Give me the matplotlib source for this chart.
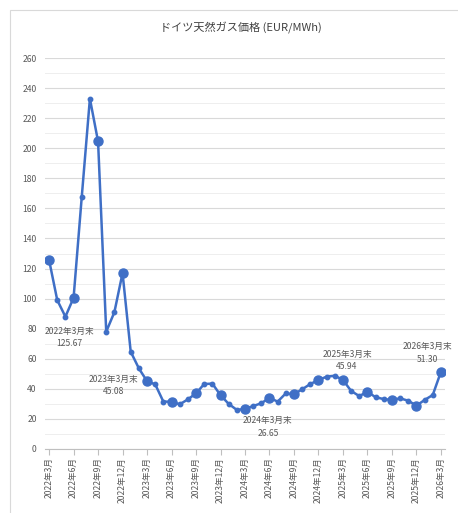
import matplotlib
matplotlib.use('Agg')
import matplotlib.pyplot as plt
from matplotlib.patches import Rectangle

plt.rcParams['font.family'] = ['Noto Sans CJK JP', 'DejaVu Sans']

# 月末価格 2022年3月 - 2026年3月 (EUR/MWh)
months = []
for y in range(2022, 2027):
    for m in range(1, 13):
        if (y == 2022 and m < 3) or (y == 2026 and m > 3):
            continue
        months.append((y, m))

prices = [125.67, 99, 88, 100.5, 167.5, 233, 204.5, 78, 91, 117,
          64.7, 53.6, 45.08, 43, 31.5, 31.5, 29.7, 33, 37, 43.2, 43.5, 35.8,
          30, 26, 26.65, 28.6, 30.4, 34.1, 31.5, 37, 36.4, 39.7, 43.2, 45.9,
          48.1, 48.7, 45.94, 38.6, 35.2, 38.1, 34.4, 33.2, 32.6, 33.7, 32.1, 28.8,
          32.6, 35.9, 51.30]

# 注記 (index, y位置, テキスト)
notes = [(2.45, 74, '2022年3月末\n125.67'),
         (7.85, 42.2, '2023年3月末\n45.08'),
         (26.8, 14.6, '2024年3月末\n26.65'),
         (36.5, 59, '2025年3月末\n45.94'),
         (46.3, 64, '2026年3月末\n51.30')]

blue = '#3F6FC6'
txt = '#595959'

fig = plt.figure(figsize=(4.58, 5.13), dpi=100)
fig.patches.append(Rectangle((10 / 458, -0.1), 1.2, 1 - 10 / 513 + 0.1,
                             transform=fig.transFigure, fill=False,
                             edgecolor='#d9d9d9', linewidth=0.8))
ax = fig.add_axes([45 / 458, 1 - 449 / 513, 400 / 458, 391 / 513])

x = list(range(len(prices)))
ax.plot(x, prices, color=blue, linewidth=1.8, marker='o', markersize=3.2, zorder=3)
qi = [i for i, (y, m) in enumerate(months) if m % 3 == 0]
ax.plot(qi, [prices[i] for i in qi], linestyle='none', marker='o',
        markersize=6.5, color=blue, zorder=4)

for xi, yi, t in notes:
    ax.text(xi, yi, t, ha='center', va='center', fontsize=6.2, color=txt,
            linespacing=1.5)

ax.set_xlim(-0.5, len(prices) - 0.5)
ax.set_ylim(0, 260)
ax.set_yticks(range(0, 261, 20))
ax.set_yticks(range(10, 260, 20), minor=True)
ax.grid(axis='y', which='major', color='#d9d9d9', linewidth=0.8)
ax.grid(axis='y', which='minor', color='#eeeeee', linewidth=0.7)
ax.set_axisbelow(True)
ax.set_xticks(qi)
ax.set_xticklabels([f'{y}年{m}月' for y, m in (months[i] for i in qi)],
                   rotation=90, fontsize=6.2, color=txt)
ax.tick_params(axis='y', length=0, labelsize=6.2, labelcolor=txt, pad=6)
ax.tick_params(axis='y', which='minor', length=0)
ax.tick_params(axis='x', length=4, color='#bfbfbf', pad=2)
for s in ['top', 'right', 'left']:
    ax.spines[s].set_visible(False)
ax.spines['bottom'].set_color('#bfbfbf')

fig.text(0.525, 1 - 28 / 513, 'ドイツ天然ガス価格 (EUR/MWh)', ha='center', va='center',
         fontsize=8, color='#404040')

fig.savefig('out.png', dpi=100)
